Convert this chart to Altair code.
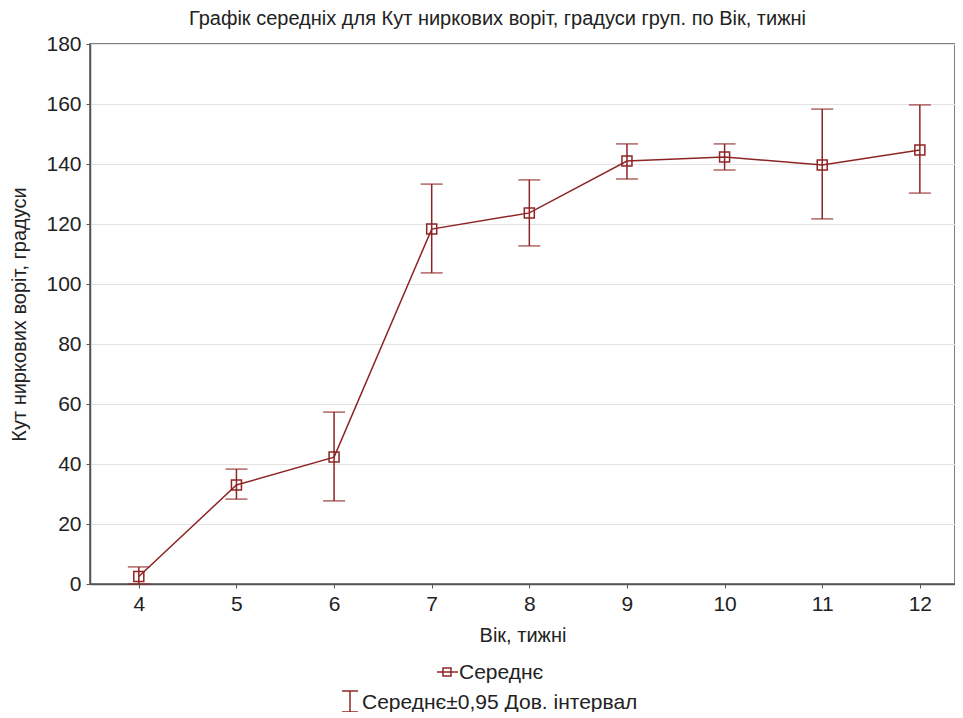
import altair as alt
import pandas as pd

weeks = [4, 5, 6, 7, 8, 9, 10, 11, 12]
means = [2.5, 33.0, 42.3, 118.3, 123.7, 141.0, 142.3, 139.7, 144.7]
lower = [0.0, 28.3, 27.7, 103.7, 112.7, 135.0, 138.0, 121.7, 130.3]
upper = [5.7, 38.3, 57.3, 133.3, 134.7, 146.7, 146.7, 158.3, 159.7]
y_ticks = [0, 20, 40, 60, 80, 100, 120, 140, 160, 180]

title_text = "Графік середніх для Кут ниркових воріт, градуси груп. по Вік, тижні"
x_title = "Вік, тижні"
y_title = "Кут ниркових воріт, градуси"
legend_mean = "Середнє"
legend_ci = "Середнє±0,95 Дов. інтервал"

df = pd.DataFrame({"week": weeks, "mean": means, "lo": lower, "hi": upper})

COL = "#8e2424"
FONT = "Liberation Sans"
TXT = "#222222"
W, H = 865, 540

xs = alt.Scale(domain=[3.5, 12.36], nice=False, zero=False)
ys = alt.Scale(domain=[0, 180], nice=False)

base = alt.Chart(df)

x_enc = alt.X("week:Q", scale=xs, title=x_title,
              axis=alt.Axis(values=weeks, format="d", grid=False, tickSize=4,
                            labelPadding=5, titlePadding=11))
y_enc = alt.Y("mean:Q", scale=ys, title=y_title,
              axis=alt.Axis(values=y_ticks, grid=True, tickSize=4,
                            labelPadding=5, titlePadding=16))

line = base.mark_line(color=COL, strokeWidth=1.5).encode(x=x_enc, y=y_enc)
rule = base.mark_rule(color=COL, strokeWidth=1.5).encode(
    x=alt.X("week:Q", scale=xs), y=alt.Y("lo:Q", scale=ys), y2="hi:Q")
cap_lo = base.mark_tick(color=COL, thickness=1.5, size=22, orient="horizontal").encode(
    x=alt.X("week:Q", scale=xs), y=alt.Y("lo:Q", scale=ys))
cap_hi = base.mark_tick(color=COL, thickness=1.5, size=22, orient="horizontal").encode(
    x=alt.X("week:Q", scale=xs), y=alt.Y("hi:Q", scale=ys))
pts = base.mark_point(shape="square", filled=False, color=COL, size=100,
                      strokeWidth=1.5, opacity=1).encode(
    x=alt.X("week:Q", scale=xs), y=alt.Y("mean:Q", scale=ys))

# custom legend below the x-axis title
leg = alt.Chart(pd.DataFrame({"a": [legend_mean], "b": [legend_ci]}))
leg_line = leg.mark_rule(color=COL, strokeWidth=1.5).encode(
    x=alt.value(347), x2=alt.value(368), y=alt.value(628))
leg_sq = leg.mark_point(shape="square", filled=False, color=COL, size=64,
                        strokeWidth=1.5, opacity=1).encode(
    x=alt.value(357), y=alt.value(628))
leg_t1 = leg.mark_text(align="left", baseline="middle", font=FONT, fontSize=21,
                       color=TXT).encode(
    x=alt.value(369), y=alt.value(629), text="a:N")
leg_eb = leg.mark_rule(color=COL, strokeWidth=1.5).encode(
    x=alt.value(260), y=alt.value(647), y2=alt.value(668))
leg_c1 = leg.mark_rule(color=COL, strokeWidth=1.5).encode(
    x=alt.value(252), x2=alt.value(268), y=alt.value(647))
leg_c2 = leg.mark_rule(color=COL, strokeWidth=1.5).encode(
    x=alt.value(252), x2=alt.value(268), y=alt.value(668))
leg_t2 = leg.mark_text(align="left", baseline="middle", font=FONT, fontSize=21,
                       color=TXT).encode(
    x=alt.value(272), y=alt.value(659), text="b:N")

chart = alt.layer(
    line, rule, cap_lo, cap_hi, pts,
    leg_line, leg_sq, leg_t1, leg_eb, leg_c1, leg_c2, leg_t2
).properties(
    width=W, height=H,
    title=alt.TitleParams(title_text, font=FONT, fontSize=20, fontWeight="normal",
                          color=TXT, anchor="middle", dx=-25, offset=4),
    autosize=alt.AutoSizeParams(type="none"),
    padding={"left": 82, "top": 36, "right": 0, "bottom": 128},
).configure_view(
    stroke="#555555", strokeWidth=1.5
).configure_axis(
    labelFont=FONT, titleFont=FONT, labelFontSize=21, titleFontSize=20,
    labelColor=TXT, titleColor=TXT, titleFontWeight="normal",
    domainColor="#555555", domainWidth=1.5, tickColor="#555555",
    gridColor="#e3e3e3", gridWidth=1
)

chart.save("out.html", embed_options={"renderer": "svg", "actions": False})
